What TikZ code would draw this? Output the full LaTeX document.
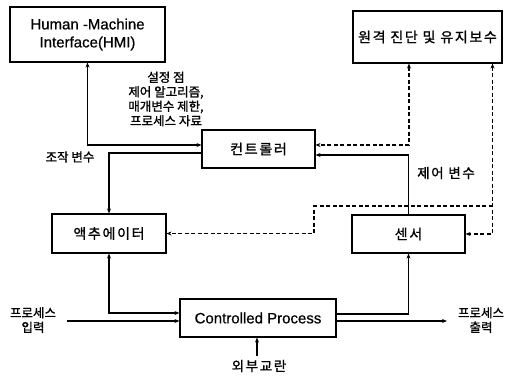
\documentclass[tikz,border=0pt]{standalone}
\usepackage{fontspec}
\setmainfont{Liberation Sans}[FakeBold=0.6]
\newfontfamily\kr{Noto Sans CJK KR}[FakeBold=1.2]
\newfontfamily\krw{Noto Sans CJK KR}[FakeBold=1.2,LetterSpace=12]
\usetikzlibrary{arrows.meta}
\begin{document}
\begin{tikzpicture}[x=1pt,y=-1pt,
  box/.style={draw,line width=1.1pt,rectangle,inner sep=0pt,align=center},
  conn/.style={line width=1.1pt,-{Stealth[length=5pt,width=4pt]}},
  bconn/.style={line width=1.1pt,{Stealth[length=5pt,width=4pt]}-{Stealth[length=5pt,width=4pt]}},
  dsh/.style={dash pattern=on 4pt off 2.5pt},
  lbl/.style={align=center,font=\kr\fontsize{12.5}{14.5}\selectfont,inner sep=0pt},
  wlbl/.style={align=center,font=\krw\fontsize{13.5}{16}\selectfont,inner sep=0pt},
  btxt/.style={font=\fontsize{15}{18}\selectfont},
  ktxt/.style={font=\krw\fontsize{14}{16}\selectfont}]
\useasboundingbox[fill=white] (0,0) rectangle (506,376);
% boxes
\node[box,btxt,minimum width=155pt,minimum height=55pt] (hmi) at (87.5,34.5) {Human -Machine\\Interface(HMI)};
\node[box,ktxt,minimum width=149pt,minimum height=52pt] (rem) at (427.5,37) {원격 진단 및 유지보수};
\node[box,ktxt,minimum width=113pt,minimum height=38pt] (ctrl) at (258.5,149) {컨트롤러};
\node[box,ktxt,minimum width=114pt,minimum height=39pt] (act) at (109,233.5) {액추에이터};
\node[box,ktxt,minimum width=113pt,minimum height=38pt] (sens) at (408.5,234) {센서};
\node[box,btxt,minimum width=156pt,minimum height=38pt] (proc) at (258,318) {Controlled Process};
% labels
\node[lbl] (l1) at (166,99) {설정 점\\제어 알고리즘,\\매개변수 제한,\\프로세스 자료};
\node[lbl] (l2) at (70,157) {조작 변수};
\node[wlbl] (l3) at (446,173) {제어 변수};
\node[lbl] (l4) at (33,320) {프로세스\\입력};
\node[lbl] (l5) at (481,320) {프로세스\\출력};
\node[wlbl] (l6) at (259,366) {외부교란};
% coordinates
\coordinate (in) at (67,321);
\coordinate (out) at (447,321);
\coordinate (dist) at (257,356);
\coordinate (rx1) at (409,0);
\coordinate (rx2) at (492.5,0);
\coordinate (j1) at (314,206);
% solid connectors
\draw[bconn] (hmi.south) |- ([yshift=4pt]ctrl.west);
\draw[conn] ([yshift=-4pt]ctrl.west) -| (act.north);
\draw[bconn] (act.south) |- ([yshift=5pt]proc.west);
\draw[conn] (in) -- (in -| proc.west);
\draw[conn] (dist) -- (dist |- proc.south);
\draw[conn] ([yshift=4pt]proc.east) -| (sens.south);
\draw[conn] (proc.east |- out) -- (out);
\draw[conn] (sens.north) |- ([yshift=-6pt]ctrl.east);
% dashed connectors
\draw[bconn,dsh] (rx1 |- rem.south) |- ([yshift=4pt]ctrl.east);
\draw[bconn,dsh] (rx2 |- rem.south) |- (sens.east);
\draw[conn,dsh] (rx2 |- j1) -- (j1) |- (act.east);
\end{tikzpicture}
\end{document}
